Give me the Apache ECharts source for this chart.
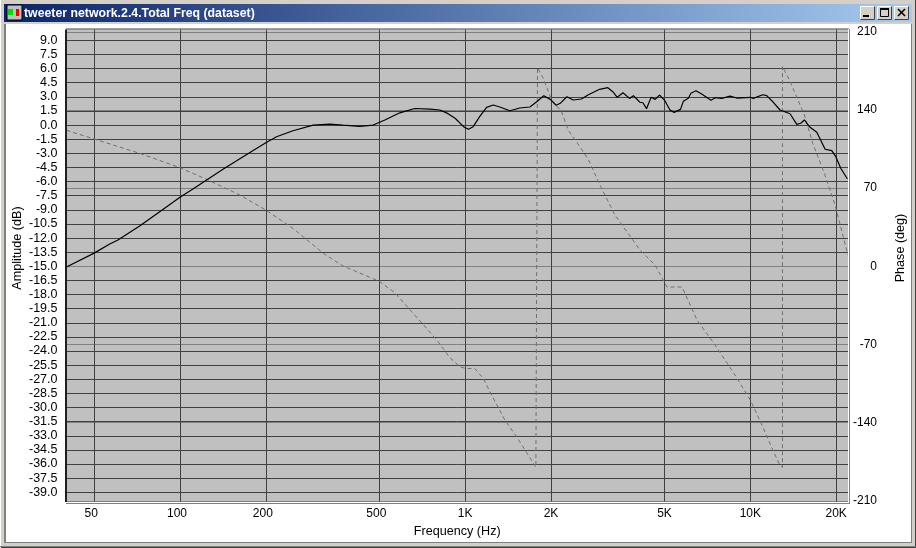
<!DOCTYPE html>
<html>
<head>
<meta charset="utf-8">
<style>html,body{margin:0;padding:0;background:#D4D0C8}#c{width:916px;height:548px}</style>
<script src="https://cdn.jsdelivr.net/npm/echarts@6/dist/echarts.min.js"></script>
</head>
<body>
<div id="c"></div>
<script>
const windowTitle = 'tweeter network.2.4.Total Freq (dataset)';
const ampAxisName = 'Amplitude (dB)';
const phaseAxisName = 'Phase (deg)';
const ampFreq = [40,50,56.7,60.6,72.2,84.9,100,111,124,141.5,158,180,200,218,249,293,335,373,426,476,523,590,666,752,816,860,922,987,1026,1067,1124,1189,1254,1323,1434,1554,1686,1782,1886,1987,2085,2155,2272,2394,2557,2694,2960,3164,3294,3414,3575,3770,3890,4100,4200,4325,4488,4637,4809,5015,5225,5405,5690,5820,6060,6190,6446,6750,7280,7520,7935,8490,8960,10000,10240,11055,11415,12040,12710,13780,14550,15020,15470,16110,17100,18290,19300,19940,20750,21900];
const ampDb = [-15.07,-13.6,-12.63,-12.2,-10.72,-9.2,-7.67,-6.8,-5.84,-4.7,-3.78,-2.72,-1.87,-1.24,-0.6,0,0.11,0,-0.13,0,0.54,1.3,1.76,1.7,1.6,1.3,0.72,-0.17,-0.45,-0.17,0.89,1.88,2.13,1.92,1.52,1.81,1.92,2.48,3.12,2.73,2.1,2.31,3.01,2.66,2.77,3.19,3.8,3.97,3.54,2.95,3.44,2.83,3.12,2.42,2.37,1.74,2.95,2.73,3.19,2.59,1.6,1.35,1.67,2.52,2.84,3.37,3.65,3.3,2.63,2.9,2.84,3.08,2.87,2.95,2.84,3.22,3.12,2.42,1.6,1.2,0.08,0.19,0.54,-0.17,-0.77,-2.57,-2.72,-3.36,-4.59,-5.73];
const phaseFreq = [40,50,72.2,100,124,162,200,249,318,373,500,567,649,732,804,884,958,1000,1082,1157,1238,1378,1515,1663,1770,1793,1793,1878,2010,2178,2298,2526,2702,2969,3350,4102,4630,5103,5760,6501,7520,8837,10000,11055,11985,12640,12960,12960,13710,15470,16560,18180,19820,22000];
const phaseDeg = [121.8,114,101.2,88.3,77.9,63.9,50.4,34,11.7,0.3,-13.4,-23.6,-40.6,-55.5,-67.5,-81.8,-89.8,-91.3,-91.6,-100.2,-115.2,-137.6,-152.5,-168.9,-179.9,-180,178,168.4,149,138.5,122,107,95.8,72.8,46,14.6,1.2,-18.5,-18.5,-48,-70.4,-97.3,-119.7,-143.6,-164.4,-177,-180,179,166.8,135.5,110,83.3,54.9,10];
const freqTicks = [50,100,200,500,1000,2000,5000,10000,20000];
const freqTickLabels = ['50','100','200','500','1K','2K','5K','10K','20K'];
const dbTicks = [9,7.5,6,4.5,3,1.5,0,-1.5,-3,-4.5,-6,-7.5,-9,-10.5,-12,-13.5,-15,-16.5,-18,-19.5,-21,-22.5,-24,-25.5,-27,-28.5,-30,-31.5,-33,-34.5,-36,-37.5,-39];
const phaseTicks = [210,140,70,0,-70,-140,-210];

const FONT = '"Liberation Sans", Arial, sans-serif';
const pair = (xs, ys) => xs.map((x, i) => [x, ys[i]]);
const btn = (x) => [
  {type:'rect',z:5,shape:{x:x,y:6,width:15,height:14},style:{fill:'#D4D0C8',stroke:null}},
  {type:'polyline',z:6,shape:{points:[[x+.5,19.5],[x+.5,6.5],[x+14.5,6.5]]},style:{stroke:'#fff',fill:null,lineWidth:1}},
  {type:'polyline',z:6,shape:{points:[[x+.5,19.5],[x+14.5,19.5],[x+14.5,6.5]]},style:{stroke:'#404040',fill:null,lineWidth:1}}
];
const line = (x1,y1,x2,y2,c,w) => ({type:'line',z:6,shape:{x1,y1,x2,y2},style:{stroke:c,lineWidth:w||1}});
const vText = (text,x,y) => ({type:'text',z:6,x:x,y:y,rotation:Math.PI/2,
  style:{x:0,y:0,text:text,fill:'#000',font:'12.6px '+FONT,align:'center',verticalAlign:'middle'}});

const chrome = [
  {type:'rect',z:-20,shape:{x:0,y:0,width:916,height:548},style:{fill:'#D4D0C8'}},
  line(0,547.5,916,547.5,'#404040'), line(0.5,0,0.5,548,'#FFFFFF'),line(915.5,0,915.5,548,'#404040'),
  line(0,546.5,916,546.5,'#808080'),
  {type:'rect',z:-19,shape:{x:4,y:24,width:908,height:519},style:{fill:'#808080'}},
  {type:'rect',z:-18,shape:{x:6,y:24,width:905,height:518},style:{fill:'#FFFFFF'}},
  {type:'rect',z:4,shape:{x:4,y:4,width:908,height:18},
    style:{fill:{type:'linear',x:0,y:0,x2:1,y2:0,colorStops:[{offset:0,color:'#0A246A'},{offset:1,color:'#A6CAF0'}]}}},
  {type:'rect',z:5,shape:{x:7,y:5,width:15,height:15},style:{fill:'#C0C0C0',stroke:'#000',lineWidth:1}},
  {type:'rect',z:6,shape:{x:8,y:9,width:5,height:6},style:{fill:'#00E000'}},
  {type:'rect',z:6,shape:{x:16,y:9,width:3,height:7},style:{fill:'#F00000'}},
  {type:'text',z:6,style:{x:24,y:13.5,text:windowTitle,fill:'#fff',font:'bold 12.3px '+FONT,verticalAlign:'middle'}},
  vText(ampAxisName,18,248), vText(phaseAxisName,901,248),
  ...btn(860),...btn(877),...btn(894),
  {type:'rect',z:7,shape:{x:863,y:15,width:6,height:2},style:{fill:'#000'}},
  {type:'rect',z:7,shape:{x:880.5,y:8.5,width:8,height:8},style:{fill:null,stroke:'#000',lineWidth:1}},
  line(880,9,889,9,'#000',2),
  line(898,9,905,16,'#000',1.6), line(905,9,898,16,'#000',1.6),
  // sunken plot border
  line(66,29,849,29,'#404040',1), line(66,29.5,66,502,'#202020',2),
  line(66,502.5,849,502.5,'#FFFFFF'), line(66,503.5,850,503.5,'#808080'),
  line(848.5,29,848.5,503,'#FFFFFF'), line(849.5,29,849.5,504,'#808080')
];

const chart = echarts.init(document.getElementById('c'), null, {renderer:'canvas'});
chart.setOption({
  animation:false,
  backgroundColor:'#D4D0C8',
  grid:{left:66.5,top:29.5,width:781.5,height:472,show:true,backgroundColor:'#C0C0C0',borderWidth:0,outerBoundsMode:'none',containLabel:false},
  graphic:{elements:chrome},
  tooltip:{show:false},
  xAxis:{
    type:'log',logBase:10,min:40,max:22000,
    name:'Frequency (Hz)',nameLocation:'middle',nameGap:24,
    nameTextStyle:{fontFamily:FONT,fontSize:12.6,color:'#000'},
    axisLine:{show:false},
    axisTick:{show:false,customValues:freqTicks},
    minorTick:{show:false},minorSplitLine:{show:false},
    axisLabel:{customValues:freqTicks,margin:6,color:'#000',fontFamily:FONT,fontSize:12,showMinLabel:true,showMaxLabel:true,
      rich:{n:{fontFamily:FONT,fontSize:12,color:'#000',padding:[0,6,0,0]},k:{fontFamily:FONT,fontSize:12,color:'#000'}},
      formatter:(v)=>{const i=freqTicks.indexOf(Math.round(v));return (i<4?'{n|':'{k|')+freqTickLabels[i]+'}';}},
    splitLine:{show:true,lineStyle:{color:'#404040',width:1}}
  },
  yAxis:[{
    type:'value',min:-39.98,max:10.15,
    axisLine:{show:false},axisTick:{show:false,customValues:dbTicks},
    axisLabel:{customValues:dbTicks,margin:9,color:'#000',fontFamily:FONT,fontSize:12.5,formatter:(v)=>v.toFixed(1)},
    splitLine:{show:true,lineStyle:{color:'#404040',width:1}}
  },{
    type:'value',min:-210.5,max:212.04,position:'right',
    axisLine:{show:false},axisTick:{show:false,customValues:phaseTicks},
    axisLabel:{customValues:phaseTicks,margin:29,align:'right',color:'#000',fontFamily:FONT,fontSize:12,formatter:(v)=>String(v)},
    splitLine:{show:true,z:1,lineStyle:{color:'#808080',width:1}}
  }],
  series:[{
    name:'Phase',type:'line',yAxisIndex:1,data:pair(phaseFreq,phaseDeg),showSymbol:false,symbol:'none',smooth:false,
    lineStyle:{color:'#707070',width:1,type:[4,3]},clip:true,z:3
  },{
    name:'Amplitude',type:'line',yAxisIndex:0,data:pair(ampFreq,ampDb),showSymbol:false,symbol:'none',smooth:false,
    lineStyle:{color:'#000000',width:1.2},clip:true,z:4
  }]
});
</script>
</body>
</html>
